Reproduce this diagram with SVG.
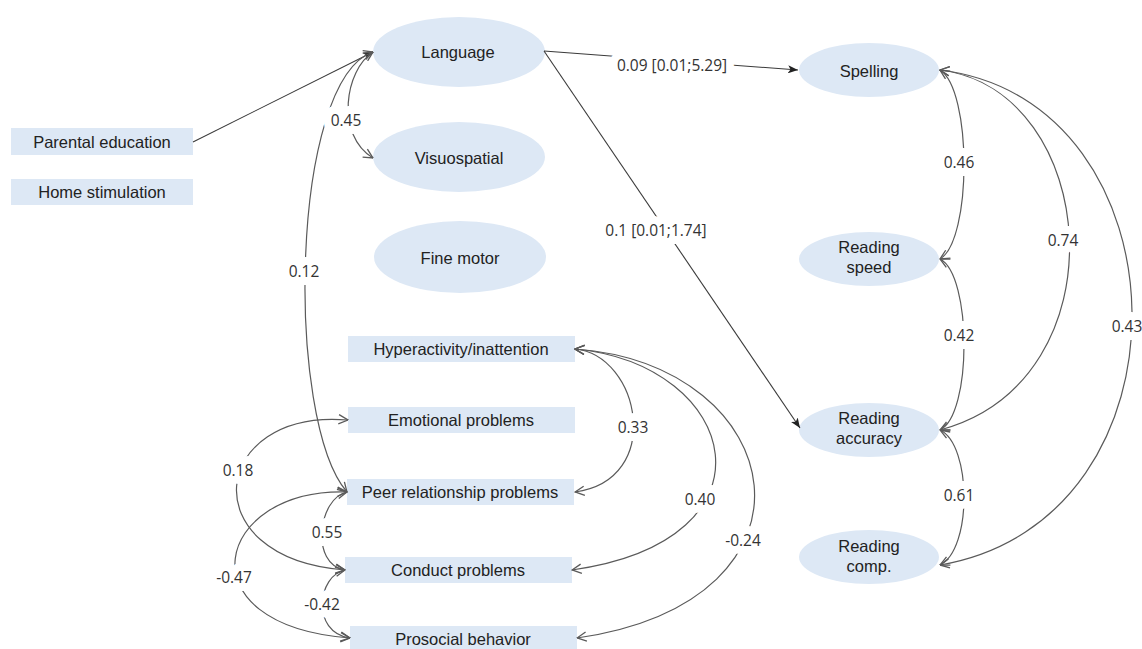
<svg xmlns="http://www.w3.org/2000/svg" width="1142" height="649" viewBox="0 0 1142 649">
<style>
.bg{fill:#ffffff}
.node{fill:#dde8f5}
.nt{font-family:"Liberation Sans",Arial,sans-serif;font-size:16.5px;fill:#222;text-anchor:middle}
.cov{fill:none;stroke:#5a5a5a;stroke-width:1.2;marker-start:url(#chev);marker-end:url(#chev)}
.dir{fill:none;stroke:#3a3a3a;stroke-width:1.1;marker-end:url(#tri)}
.lbl{font-family:"Open Sans","Noto Sans",sans-serif;font-size:15.5px;fill:#333;text-anchor:middle;stroke:#fff;stroke-width:16;paint-order:stroke;stroke-linejoin:round}
</style>
<defs>
<marker id="chev" viewBox="0 0 10 10" refX="9.5" refY="5" markerWidth="11" markerHeight="11" markerUnits="userSpaceOnUse" orient="auto-start-reverse">
<path d="M1,0.8 L9.5,5 L1,9.2" fill="none" stroke="#5a5a5a" stroke-width="1.2"/>
</marker>
<marker id="tri" viewBox="0 0 10 8" refX="10" refY="4" markerWidth="10" markerHeight="8" markerUnits="userSpaceOnUse" orient="auto">
<path d="M0,0 L10,4 L0,8 L2.5,4 z" fill="#222"/>
</marker>
</defs>
<rect class="bg" x="0" y="0" width="1142" height="649"/>

<g id="parental-education"><rect class="node" x="11" y="128" width="182" height="27"/><text class="nt" x="102" y="147.5">Parental education</text></g>
<g id="home-stimulation"><rect class="node" x="11" y="179" width="182" height="26"/><text class="nt" x="102" y="198">Home stimulation</text></g>
<g id="language"><ellipse class="node" cx="459" cy="52" rx="86" ry="35"/><text class="nt" x="458" y="58">Language</text></g>
<g id="visuospatial"><ellipse class="node" cx="459" cy="157" rx="86" ry="35"/><text class="nt" x="459" y="164">Visuospatial</text></g>
<g id="fine-motor"><ellipse class="node" cx="460" cy="257" rx="86" ry="36"/><text class="nt" x="460" y="264">Fine motor</text></g>
<g id="hyperactivity"><rect class="node" x="348" y="336" width="227" height="26"/><text class="nt" x="461" y="355">Hyperactivity/inattention</text></g>
<g id="emotional"><rect class="node" x="348" y="407" width="227" height="26"/><text class="nt" x="461" y="426">Emotional problems</text></g>
<g id="peer"><rect class="node" x="347" y="479" width="227" height="26"/><text class="nt" x="460" y="498">Peer relationship problems</text></g>
<g id="conduct"><rect class="node" x="345" y="557" width="227" height="26"/><text class="nt" x="458" y="576">Conduct problems</text></g>
<g id="prosocial"><rect class="node" x="350" y="626" width="227" height="26"/><text class="nt" x="463" y="645">Prosocial behavior</text></g>
<g id="spelling"><ellipse class="node" cx="869" cy="70" rx="70" ry="27"/><text class="nt" x="869" y="77">Spelling</text></g>
<g id="reading-speed"><ellipse class="node" cx="869" cy="259" rx="70" ry="27"/><text class="nt" x="869" y="253">Reading</text><text class="nt" x="869" y="273">speed</text></g>
<g id="reading-accuracy"><ellipse class="node" cx="869" cy="430" rx="70" ry="27"/><text class="nt" x="869" y="424">Reading</text><text class="nt" x="869" y="444">accuracy</text></g>
<g id="reading-comp"><ellipse class="node" cx="869" cy="557" rx="70" ry="27"/><text class="nt" x="869" y="552">Reading</text><text class="nt" x="869" y="572">comp.</text></g>

<g id="connectors">
<path class="dir" d="M193,142 L373,52"/>
<path class="dir" d="M544,51 L798,70"/>
<path class="dir" d="M544,51 L800,428"/>
<path class="cov" d="M373,52 C345,70 335,135 373,158"/>
<path class="cov" d="M373,52 C290,80 285,420 347,492"/>
<path class="cov" d="M940,70 C972,90 972,240 940,259"/>
<path class="cov" d="M940,259 C972,275 972,415 940,430"/>
<path class="cov" d="M940,430 C972,445 972,550 940,565"/>
<path class="cov" d="M940,70 C1100,90 1125,380 940,430"/>
<path class="cov" d="M940,70 C1190,100 1202,520 940,565"/>
<path class="cov" d="M575,349 C640,355 665,480 575,492"/>
<path class="cov" d="M575,349 C740,365 785,540 572,570"/>
<path class="cov" d="M575,349 C790,365 837,600 577,638"/>
<path class="cov" d="M348,420 C210,408 190,558 345,570"/>
<path class="cov" d="M347,492 C215,488 180,625 350,638"/>
<path class="cov" d="M347,492 C318,498 310,565 345,570"/>
<path class="cov" d="M345,570 C318,575 310,632 350,638"/>
<text class="lbl" x="672" y="71">0.09 [0.01;5.29]</text>
<text class="lbl" x="656" y="236">0.1 [0.01;1.74]</text>
<text class="lbl" x="346" y="126">0.45</text>
<text class="lbl" x="304" y="277">0.12</text>
<text class="lbl" x="959" y="168">0.46</text>
<text class="lbl" x="959" y="341">0.42</text>
<text class="lbl" x="959" y="501">0.61</text>
<text class="lbl" x="1063" y="246">0.74</text>
<text class="lbl" x="1127" y="332">0.43</text>
<text class="lbl" x="633" y="433">0.33</text>
<text class="lbl" x="700" y="505">0.40</text>
<text class="lbl" x="743" y="546">-0.24</text>
<text class="lbl" x="238" y="476">0.18</text>
<text class="lbl" x="327" y="538">0.55</text>
<text class="lbl" x="234" y="583">-0.47</text>
<text class="lbl" x="322" y="610">-0.42</text>
</g>
</svg>
